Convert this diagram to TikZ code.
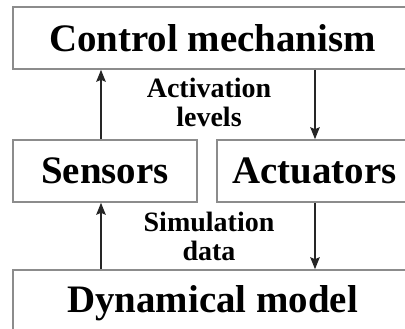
\documentclass[tikz,border=0pt]{standalone}
\usepackage{fontspec}
\setmainfont{Liberation Serif}
\usetikzlibrary{arrows.meta}
\begin{document}
\begin{tikzpicture}[x=1pt,y=-1pt,
  block/.style={draw=black!45, line width=1.6pt, inner sep=0pt,
    font=\fontsize{38.9}{40}\selectfont\bfseries},
  flowlabel/.style={align=center, inner sep=0pt,
    font=\fontsize{28}{29}\selectfont\bfseries},
  flow/.style={line width=1.7pt, draw=black!85,
    -{Stealth[length=12pt,width=9.5pt,inset=2pt]}}]
  \clip (0,0) rectangle (405,329);
  \fill[white] (0,0) rectangle (405,329);

  % blocks
  \node[block, minimum width=399pt, minimum height=62pt] (ctrl) at (212.5,38) {Control mechanism};
  \node[block, minimum width=184pt, minimum height=62pt] (sens) at (105,171) {Sensors};
  \node[block, minimum width=195pt, minimum height=62pt] (act) at (314.5,171) {Actuators};
  \node[block, minimum width=399pt, minimum height=66pt] (dyn) at (212.5,303) {Dynamical model};

  % signal labels
  \node[flowlabel] (actlbl) at (209,102) {Activation\\levels};
  \node[flowlabel] (simlbl) at (209,236) {Simulation\\data};

  % arrow columns
  \coordinate (lx) at (101,0);
  \coordinate (rx) at (315,0);

  \draw[flow] (sens.north -| lx) -- (ctrl.south -| lx);
  \draw[flow] (ctrl.south -| rx) -- (act.north -| rx);
  \draw[flow] (dyn.north -| lx) -- (sens.south -| lx);
  \draw[flow] (act.south -| rx) -- (dyn.north -| rx);
\end{tikzpicture}
\end{document}
